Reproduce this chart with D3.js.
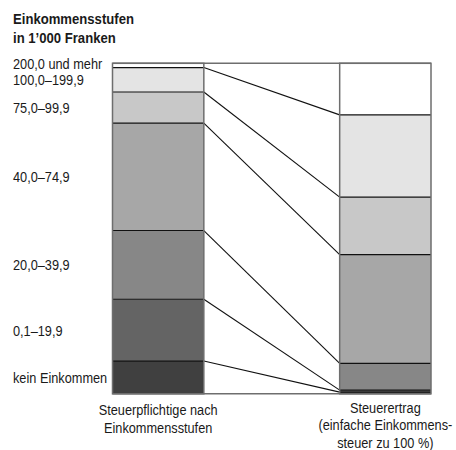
<!DOCTYPE html>
<html><head><meta charset="utf-8">
<script src="https://cdn.jsdelivr.net/npm/d3@7"></script>
<style>
html,body{margin:0;padding:0;background:#fff;}
svg text{font-family:"Liberation Sans",Arial,sans-serif;fill:#1a1a1a;}
</style></head>
<body>
<svg id="chart" width="456" height="450"></svg>
<script>
// categories bottom to top
const categories = ["kein Einkommen","0,1–19,9","20,0–39,9","40,0–74,9","75,0–99,9","100,0–199,9","200,0 und mehr"];
const steuerpflichtige = [9.9, 18.7, 20.8, 32.5, 9.4, 7.4, 1.3];   // % of taxpayers
const steuerertrag     = [0.5, 0.6, 8.1, 32.9, 17.4, 24.9, 15.6];   // % of tax yield
const columns = ["Steuerpflichtige", "Steuerertrag"];
const columnLabels = [["Steuerpflichtige nach","Einkommensstufen"],["Steuerertrag","(einfache Einkommens-","steuer zu 100 %)"]];
const titleLines = ["Einkommensstufen","in 1’000 Franken"];
const fills = ["#404040","#646464","#878787","#a7a7a7","#c8c8c8","#e4e4e4","#ffffff"];

const svg = d3.select("#chart");
const x = d3.scaleBand().domain(columns).range([112.5, 431]).paddingInner(0.598).paddingOuter(0);
const y = d3.scaleLinear().domain([0,100]).range([393.8, 63.3]);
const SX = 0.85; // condensed look

function stack(vals){ let c=0; return vals.map(v=>{const s={y0:c,y1:c+v}; c+=v; return s;}); }
const series = [stack(steuerpflichtige), stack(steuerertrag)];

// segments
columns.forEach((col,ci)=>{
  svg.append("g").selectAll("rect").data(series[ci]).join("rect")
    .attr("x", x(col)).attr("width", x.bandwidth())
    .attr("y", d=>y(d.y1)).attr("height", d=>y(d.y0)-y(d.y1))
    .attr("fill",(d,i)=>fills[i]);
});

// internal boundaries
columns.forEach((col,ci)=>{
  svg.append("g").selectAll("line").data(series[ci].slice(0,-1)).join("line")
    .attr("x1", x(col)).attr("x2", x(col)+x.bandwidth())
    .attr("y1", d=>y(d.y1)).attr("y2", d=>y(d.y1))
    .attr("stroke","#111").attr("stroke-width",1.1);
});

// connectors
const xl = x(columns[0])+x.bandwidth(), xr = x(columns[1]);
svg.append("g").selectAll("line").data(series[0].slice(0,-1)).join("line")
  .attr("x1", xl).attr("x2", xr)
  .attr("y1", d=>y(d.y1)).attr("y2", (d,i)=>y(series[1][i].y1))
  .attr("stroke","#111").attr("stroke-width",1.1);
// top & bottom lines
[0,100].forEach(v=>{
  svg.append("line").attr("x1", x(columns[0])).attr("x2", x(columns[1])+x.bandwidth())
    .attr("y1", y(v)).attr("y2", y(v)).attr("stroke","#6e6e6e").attr("stroke-width",1.5);
});
// outlines
columns.forEach(col=>{
  svg.append("rect").attr("x", x(col)).attr("width", x.bandwidth())
    .attr("y", y(100)).attr("height", y(0)-y(100))
    .attr("fill","none").attr("stroke","#6e6e6e").attr("stroke-width",1.5);
});

// title
svg.append("g").selectAll("text").data(titleLines).join("text")
  .attr("transform",(d,i)=>`translate(13,${24+i*18.5}) scale(0.875,1)`)
  .attr("font-size",15).attr("font-weight","bold").text(d=>d);

// category labels
const labelY = series[0].map(d=>y((d.y0+d.y1)/2));
labelY[6] = labelY[5]-16.5;
svg.append("g").selectAll("text").data(categories).join("text")
  .attr("transform",(d,i)=>`translate(13,${labelY[i]}) scale(${SX},1)`).attr("dy","0.36em")
  .attr("font-size",15).text(d=>d);

// column labels
columns.forEach((col,ci)=>{
  svg.append("g").selectAll("text").data(columnLabels[ci]).join("text")
    .attr("text-anchor","middle")
    .attr("transform",(d,i)=>`translate(${x(col)+x.bandwidth()/2},${(ci===0?415:412.5)+i*17.5}) scale(${SX},1)`)
    .attr("font-size",15).text(d=>d);
});
</script>
</body></html>
